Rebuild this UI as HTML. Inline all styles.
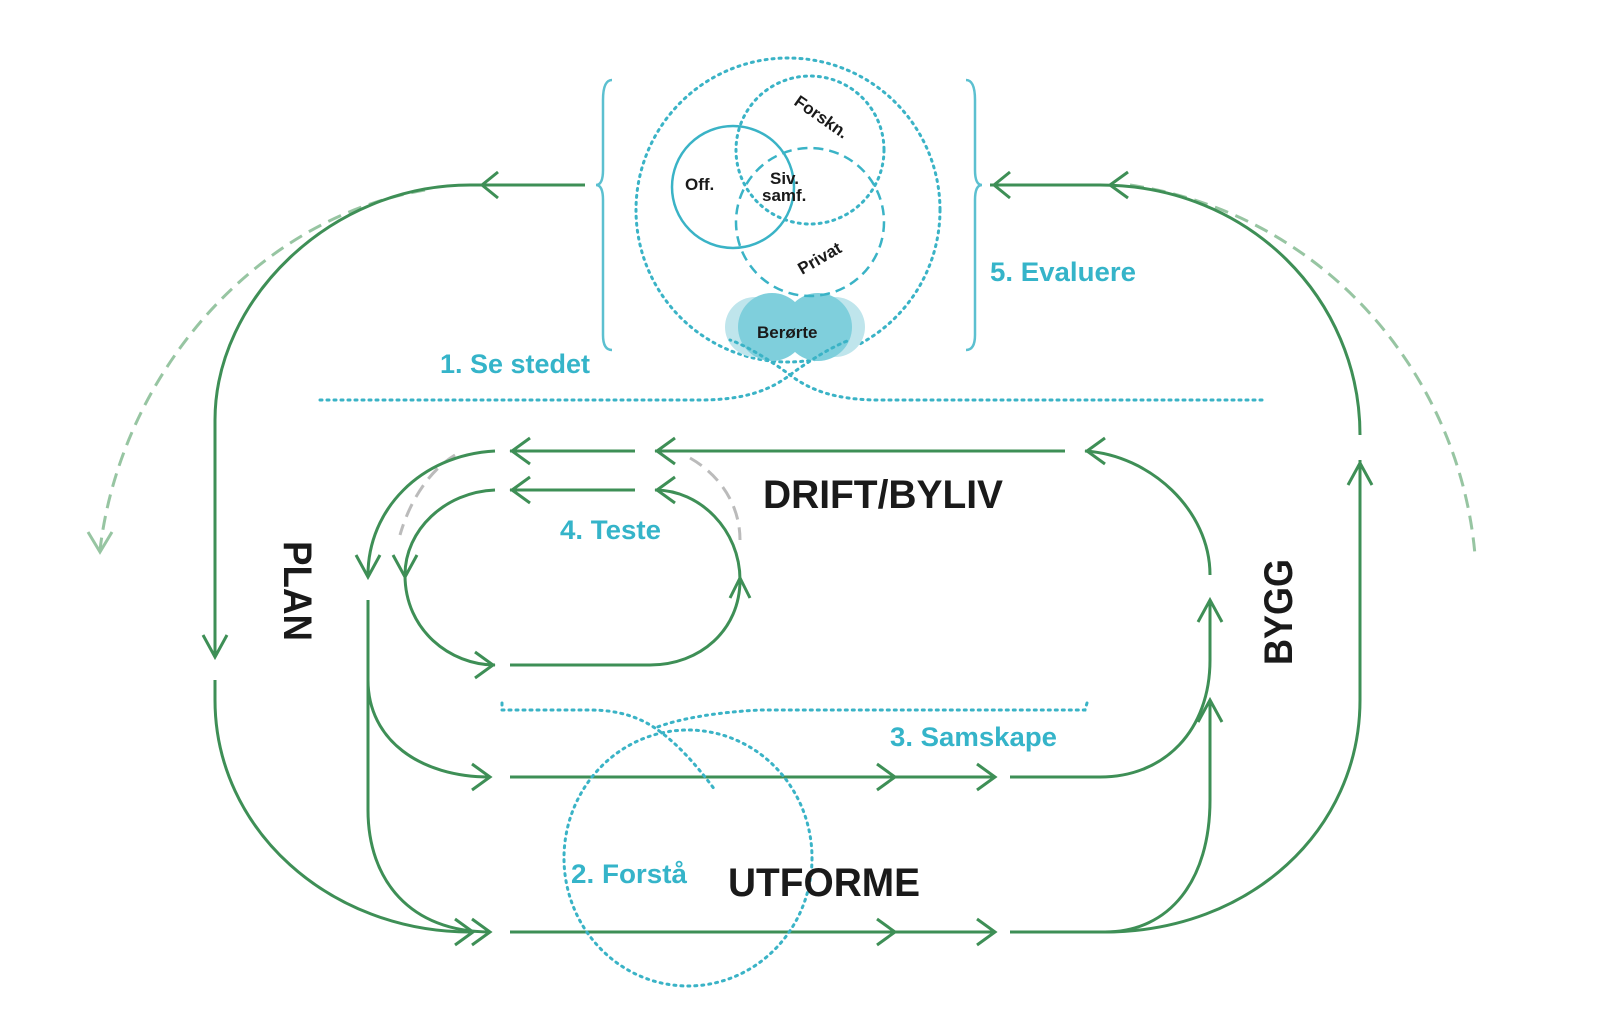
<!DOCTYPE html>
<html><head><meta charset="utf-8"><style>
html,body{margin:0;padding:0;background:#fff;}
svg{display:block;}
.g{stroke:#3e8f56;stroke-width:3;fill:none;}
.ah{stroke:#3e8f56;stroke-width:3;fill:none;}
.ld{stroke:#97c5a2;stroke-width:3;fill:none;stroke-dasharray:14 8;}
.cd{stroke:#3ab3c6;stroke-width:3;fill:none;stroke-dasharray:2 5;stroke-linecap:round;}
.cy{font-family:"Liberation Sans Narrow","Liberation Sans",sans-serif;font-weight:bold;fill:#35b4c9;font-size:27px;}
.bk{font-family:"Liberation Sans Narrow","Liberation Sans",sans-serif;font-weight:bold;fill:#1a1a1a;font-size:40px;}
.sm{font-family:"Liberation Sans",sans-serif;font-weight:bold;fill:#1a1a1a;font-size:17px;}
</style></head><body>
<svg width="1600" height="1014" viewBox="0 0 1600 1014" xmlns="http://www.w3.org/2000/svg">
<!-- light dashed outer arrows -->
<path class="ld" d="M425,190 C250,220 120,380 100,550"/>
<path class="ah" style="stroke:#97c5a2" d="M88,532 L100,552 L112,532"/>
<path class="ld" d="M1130,185 C1330,215 1460,380 1475,555"/>
<path class="ld" d="M455,455 C430,470 410,500 400,535" style="stroke:#bbb"/>
<path class="ld" d="M690,458 C720,475 740,505 740,540" style="stroke:#bbb"/>

<!-- top arrows -->
<path class="g" d="M585,185 L470,185 C330,185 215,300 215,420 L215,655"/>
<path class="ah" d="M498,172 L482,185 L498,198"/>
<path class="ah" d="M203,635 L215,657 L227,635"/>
<path class="g" d="M215,680 L215,700 C215,830 330,932 470,932"/>
<path class="g" d="M990,185 L1100,185 C1250,185 1360,300 1360,435"/>
<path class="ah" d="M1010,172 L994,185 L1010,198"/>
<path class="ah" d="M1128,172 L1110,185 L1128,198"/>
<path class="g" d="M1360,460 L1360,700 C1360,830 1250,932 1105,932"/>
<path class="ah" d="M1348,485 L1360,463 L1372,485"/>

<!-- DRIFT rows -->
<path class="g" d="M1065,451 L655,451"/>
<path class="ah" d="M675,438 L657,451 L675,464"/>
<path class="g" d="M635,451 L510,451"/>
<path class="ah" d="M530,438 L512,451 L530,464"/>
<path class="g" d="M495,451 C420,455 368,510 368,575"/>
<path class="ah" d="M356,555 L368,577 L380,555"/>
<path class="g" d="M635,490 L510,490"/>
<path class="ah" d="M530,477 L512,490 L530,503"/>
<path class="g" d="M495,490 C445,492 405,530 405,575 C405,630 450,665 495,665"/>
<path class="ah" d="M393,555 L405,577 L417,555"/>
<path class="ah" d="M475,652 L493,665 L475,678"/>
<path class="g" d="M510,665 L650,665 C700,665 740,630 740,580 C740,530 700,490 655,490"/>
<path class="ah" d="M675,477 L657,490 L675,503"/>
<path class="ah" d="M730,598 L740,578 L750,598"/>
<path class="g" d="M1085,451 C1150,455 1210,510 1210,575"/>
<path class="ah" d="M1105,438 L1087,451 L1105,464"/>

<!-- lower rows -->
<path class="g" d="M368,600 L368,680 C368,740 420,777 490,777"/>
<path class="ah" d="M472,764 L490,777 L472,790"/>
<path class="g" d="M368,680 L368,810 C368,880 410,932 490,932"/>
<path class="ah" d="M455,919 L473,932 L455,945"/>
<path class="ah" d="M472,919 L490,932 L472,945"/>
<path class="g" d="M510,777 L995,777"/>
<path class="ah" d="M877,764 L895,777 L877,790"/>
<path class="ah" d="M977,764 L995,777 L977,790"/>
<path class="g" d="M510,932 L995,932"/>
<path class="ah" d="M877,919 L895,932 L877,945"/>
<path class="ah" d="M977,919 L995,932 L977,945"/>
<path class="g" d="M1010,777 L1100,777 C1165,777 1210,730 1210,660 L1210,600"/>
<path class="ah" d="M1198,622 L1210,600 L1222,622"/>
<path class="g" d="M1010,932 L1105,932 C1170,932 1210,880 1210,800 L1210,700"/>
<path class="ah" d="M1198,722 L1210,700 L1222,722"/>

<!-- cyan top cluster -->
<path d="M612,80 Q603,80 603,100 L603,170 Q603,185 596,185 Q603,185 603,200 L603,335 Q603,350 612,350" stroke="#5cc0d0" stroke-width="2.5" fill="none"/>
<path d="M966,80 Q975,80 975,100 L975,170 Q975,185 982,185 Q975,185 975,200 L975,335 Q975,350 966,350" stroke="#5cc0d0" stroke-width="2.5" fill="none"/>
<circle cx="788" cy="210" r="152" class="cd"/>
<circle cx="755" cy="327" r="30" fill="#bfe5ec"/>
<circle cx="835" cy="327" r="30" fill="#bfe5ec"/>
<circle cx="772" cy="327" r="34" fill="#7fcfdc"/>
<circle cx="818" cy="327" r="34" fill="#7fcfdc"/>
<circle cx="810" cy="150" r="74" class="cd"/>
<circle cx="810" cy="222" r="74" fill="none" stroke="#3ab3c6" stroke-width="2.5" stroke-dasharray="10 6"/>
<circle cx="733" cy="187" r="61" fill="none" stroke="#3ab3c6" stroke-width="2.5"/>
<text class="sm" x="685" y="190">Off.</text>
<text class="sm" x="770" y="184" font-size="15">Siv.</text>
<text class="sm" x="762" y="201" font-size="15">samf.</text>
<text class="sm" transform="translate(793,104) rotate(35)">Forskn.</text>
<text class="sm" transform="translate(802,275) rotate(-30)">Privat</text>
<text class="sm" x="757" y="338">Berørte</text>

<!-- dotted braces -->
<path class="cd" d="M320,400 L700,400 C745,400 770,390 790,375 C810,360 835,345 850,340"/>
<path class="cd" d="M1262,400 L880,400 C835,400 810,390 790,375 C770,360 745,345 730,340"/>
<path class="cd" d="M502,703 L502,710 L590,710 C620,710 640,718 655,728 C680,745 700,770 715,790"/>
<path class="cd" d="M1087,703 L1085,710 L760,710 C720,712 680,718 655,728"/>
<ellipse cx="688" cy="858" rx="124" ry="128" class="cd"/>

<!-- labels -->
<text class="cy" x="440" y="373" textLength="150" lengthAdjust="spacingAndGlyphs">1. Se stedet</text>
<text class="cy" x="990" y="281" textLength="146" lengthAdjust="spacingAndGlyphs">5. Evaluere</text>
<text class="cy" x="560" y="539" textLength="101" lengthAdjust="spacingAndGlyphs">4. Teste</text>
<text class="cy" x="890" y="746" textLength="167" lengthAdjust="spacingAndGlyphs">3. Samskape</text>
<text class="cy" x="571" y="883" textLength="116" lengthAdjust="spacingAndGlyphs">2. Forstå</text>
<text class="bk" x="763" y="508" textLength="240" lengthAdjust="spacingAndGlyphs">DRIFT/BYLIV</text>
<text class="bk" x="728" y="896" textLength="192" lengthAdjust="spacingAndGlyphs">UTFORME</text>
<text class="bk" transform="translate(284,541) rotate(90)" textLength="100" lengthAdjust="spacingAndGlyphs">PLAN</text>
<text class="bk" transform="translate(1292,665) rotate(-90)" textLength="106" lengthAdjust="spacingAndGlyphs">BYGG</text>
</svg>
</body></html>
